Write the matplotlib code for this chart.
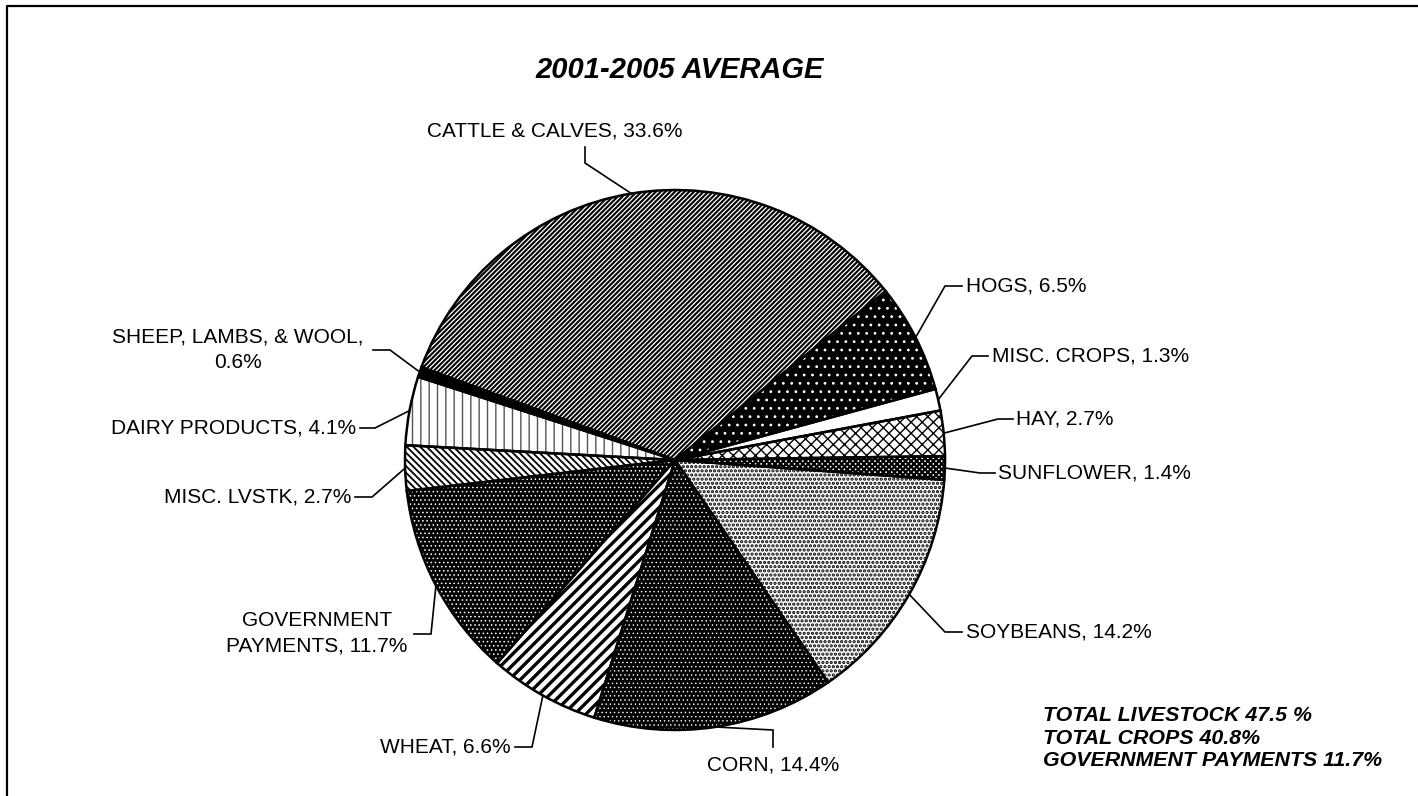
import numpy as np
import matplotlib
matplotlib.use("Agg")
import matplotlib.pyplot as plt
from matplotlib.patches import Wedge
from matplotlib.lines import Line2D

W, H = 1418, 796

categories = ["HOGS", "MISC. CROPS", "HAY", "SUNFLOWER", "SOYBEANS", "CORN",
              "WHEAT", "GOVERNMENT\nPAYMENTS", "MISC. LVSTK", "DAIRY PRODUCTS",
              "SHEEP, LAMBS, & WOOL,\n", "CATTLE & CALVES"]
shares = [6.5, 1.3, 2.7, 1.4, 14.2, 14.4, 6.6, 11.7, 2.7, 4.1, 0.6, 33.6]
title = "2001-2005 AVERAGE"
totals = ["TOTAL LIVESTOCK 47.5 %", "TOTAL CROPS 40.8%", "GOVERNMENT PAYMENTS 11.7%"]

# fill style per slice: (face, hatch colour, hatch, hatch linewidth)
styles = [
    ("black", "white", "..", 0.8),
    ("white", "white", None, 1.0),
    ("white", "black", "xxx", 1.0),
    ("white", "black", "XXXXXX", 1.6),
    ("white", "black", "....", 1.6),
    ("black", "white", "....", 0.5),
    ("white", "black", "///", 2.4),
    ("black", "white", "....", 0.6),
    ("white", "black", "\\\\\\\\\\", 1.3),
    ("white", "#555555", "||", 1.0),
    ("black", "black", None, 1.0),
    ("white", "black", "///////", 1.5),
]

# leader lines: elbow, end, text anchor (pixel coords, y down), alignment
layout = [
    ((945, 286), (962, 286), (966, 286), "left"),
    ((972, 356), (988, 356), (992, 356), "left"),
    ((998, 419), (1013, 419), (1016, 419), "left"),
    ((980, 473), (995, 473), (998, 473), "left"),
    ((945, 632), (962, 632), (966, 632), "left"),
    ((773, 730), (773, 747), (773, 765), "center"),
    ((532, 747), (515, 747), (511, 747), "right"),
    ((431, 634), (414, 634), (317, 633), "center"),
    ((372, 497), (355, 497), (351, 497), "right"),
    ((375, 428), (360, 428), (356, 428), "right"),
    ((390, 350), (373, 350), (238, 350), "center"),
    ((585, 163), (585, 147), (555, 131), "center"),
]

CX, CY, R = 675, 460, 270


def py(y):
    return H - y


plt.rcParams['font.family'] = ['Liberation Sans', 'DejaVu Sans']
plt.rcParams['hatch.linewidth'] = 1.0

fig = plt.figure(figsize=(W / 100, H / 100), dpi=100)
ax = fig.add_axes([0, 0, 1, 1])

wedges, _ = ax.pie(shares, center=(CX, py(CY)), radius=R, startangle=38.7,
                   counterclock=False, frame=True)
ax.set_xlim(0, W)
ax.set_ylim(0, H)
ax.axis('off')

for w, (face, hcol, hatch, hlw) in zip(wedges, styles):
    w.set_facecolor(face)
    w.set_edgecolor(hcol)
    w.set_linewidth(0)
    if hatch:
        w.set_hatch(hatch)
        if hasattr(w, "set_hatch_linewidth"):
            w.set_hatch_linewidth(hlw)
    ax.add_patch(Wedge(w.center, w.r, w.theta1, w.theta2, fill=False,
                       edgecolor="black", linewidth=1.8, zorder=3))

for w, name, share, (elbow, end, anchor, ha) in zip(wedges, categories, shares, layout):
    mid = np.deg2rad((w.theta1 + w.theta2) / 2)
    sx = CX + R * np.cos(mid)
    sy = CY - R * np.sin(mid)
    ax.plot([sx, elbow[0], end[0]], [py(sy), py(elbow[1]), py(end[1])],
            color="black", lw=1.2, zorder=4, solid_joinstyle="miter")
    if name.endswith("\n"):
        label = f"{name}{share}%"
    else:
        label = f"{name}, {share}%"
    ax.text(anchor[0], py(anchor[1]), label, ha=ha, va="center",
            multialignment="center", fontsize=15, linespacing=1.45)

ax.text(680, py(70), title, ha="center", va="center", fontsize=21,
        fontweight="bold", fontstyle="italic")
ax.text(1043, py(738), "\n".join(totals), ha="left", va="center", fontsize=15.4,
        fontweight="bold", fontstyle="italic", linespacing=1.22)

# frame (left and top edges only visible)
fig.add_artist(Line2D([7 / W, 7 / W, 1], [0, 1 - 6 / H, 1 - 6 / H],
                      color="black", lw=1.6, transform=fig.transFigure))

fig.savefig("out.png", dpi=100)
